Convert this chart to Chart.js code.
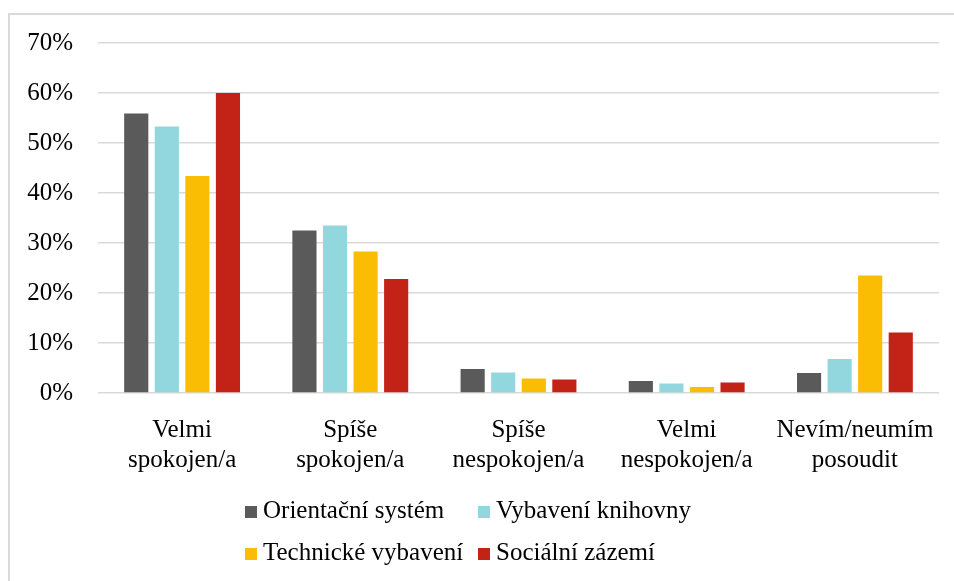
<!DOCTYPE html>
<html>
<head>
<meta charset="utf-8">
<script src="https://cdn.jsdelivr.net/npm/chart.js@4"></script>
<style>
  body { margin: 0; background: #fff; }
  #frame { position: absolute; left: 8px; top: 13px; width: 1000px; height: 700px; border: 2px solid #d9d9d9; box-sizing: border-box; }
  #c { position: absolute; left: 0; top: 0; }
</style>
</head>
<body>
<div id="frame"></div>
<canvas id="c" width="954" height="581"></canvas>
<script>
// kategorie a hodnoty (v %)
const kategorie = [
  ['Velmi', 'spokojen/a'],
  ['Spíše', 'spokojen/a'],
  ['Spíše', 'nespokojen/a'],
  ['Velmi', 'nespokojen/a'],
  ['Nevím/neumím', 'posoudit']
];
const orientacniSystem = [55.9, 32.5, 4.8, 2.4, 4.0];
const vybaveniKnihovny = [53.3, 33.5, 4.1, 1.9, 6.8];
const technickeVybaveni = [43.4, 28.3, 2.9, 1.2, 23.5];
const socialniZazemi = [60.0, 22.8, 2.7, 2.1, 12.1];

const nazvy = ['Orientační systém', 'Vybavení knihovny', 'Technické vybavení', 'Sociální zázemí'];
const barvy = ['#5a5a5a', '#93d7de', '#fabd03', '#c32317'];
const rady = [orientacniSystem, vybaveniKnihovny, technickeVybaveni, socialniZazemi];

const rodina = '"Times New Roman", "Liberation Serif", Tinos, serif';
const font = { family: rodina, size: 25 };

// legenda ve dvou řádcích, kreslená do canvasu
const legenda2 = {
  id: 'legenda2',
  afterDraw(chart) {
    const ctx = chart.ctx;
    const sloupce = [245, 478];
    const radky = [518, 560];
    ctx.save();
    ctx.font = '25px ' + rodina;
    ctx.textBaseline = 'alphabetic';
    ctx.textAlign = 'left';
    chart.data.datasets.forEach((ds, i) => {
      const x = sloupce[i % 2], y = radky[Math.floor(i / 2)];
      ctx.fillStyle = ds.backgroundColor;
      ctx.fillRect(x, y - 12, 12, 12);
      ctx.fillStyle = '#000';
      ctx.fillText(ds.label, x + 18, y);
    });
    ctx.restore();
  }
};

const graf = new Chart(document.getElementById('c'), {
  type: 'bar',
  data: {
    labels: kategorie,
    datasets: rady.map((r, i) => ({
      label: nazvy[i],
      data: r,
      backgroundColor: barvy[i],
      borderWidth: 0,
      categoryPercentage: 0.727,
      barPercentage: 0.79
    }))
  },
  options: {
    responsive: false,
    animation: false,
    layout: { padding: { left: 0, right: 15, top: 43, bottom: 91 } },
    plugins: { legend: { display: false }, tooltip: { enabled: false } },
    scales: {
      x: {
        grid: { display: false },
        border: { display: false },
        ticks: { color: '#000', font: { ...font, lineHeight: 1.2 }, padding: 14, maxRotation: 0, autoSkip: false },
        afterFit: s => { s.height = 97; }
      },
      y: {
        min: 0, max: 70,
        grid: { color: '#d9d9d9', lineWidth: 1.5, drawTicks: false },
        border: { display: false },
        ticks: { stepSize: 10, color: '#000', font: font, padding: 25, callback: v => v + '%' },
        afterFit: s => { s.width = 98; }
      }
    }
  },
  plugins: [legenda2]
});

// písmo se může načíst až později -> překreslit
const texty = kategorie.flat().concat(nazvy).join(' ') + ' 0123456789%';
document.fonts.load('25px ' + rodina, texty).then(() => graf.update(), () => {});
setTimeout(() => graf.update(), 300);
</script>
</body>
</html>
